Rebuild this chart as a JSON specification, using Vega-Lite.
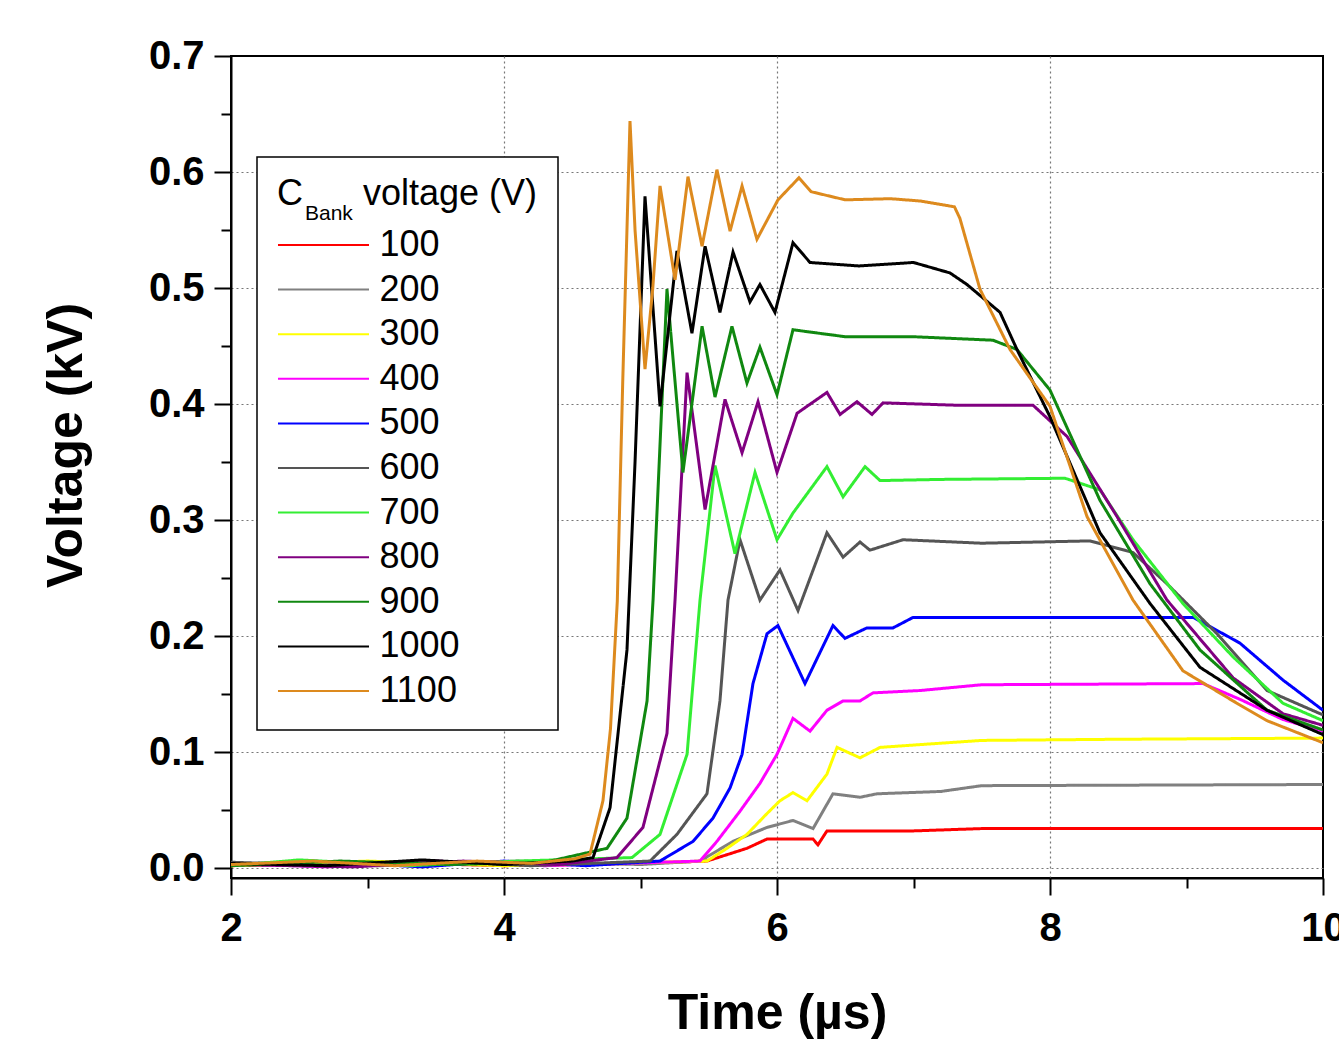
{
  "$schema": "https://vega.github.io/schema/vega-lite/v6.json",
  "width": 1092,
  "height": 822,
  "autosize": {"type": "none"},
  "padding": {"left": 231, "top": 56, "right": 16, "bottom": 164},
  "background": "white",
  "config": {
    "view": {"stroke": "black", "strokeWidth": 2},
    "legend": {"strokeWidth": 1.5}
  },
  "data": {
    "values": [
      {"s":"100","t":2.0,"v":0.002},{"s":"100","t":3.0,"v":0.005},{"s":"100","t":4.0,"v":0.002},{"s":"100","t":5.0,"v":0.004},{"s":"100","t":5.487,"v":0.006},{"s":"100","t":5.78,"v":0.017},{"s":"100","t":5.927,"v":0.025},{"s":"100","t":6.264,"v":0.025},{"s":"100","t":6.3,"v":0.02},{"s":"100","t":6.366,"v":0.032},{"s":"100","t":7.0,"v":0.032},{"s":"100","t":7.5,"v":0.034},{"s":"100","t":10.0,"v":0.034},
      {"s":"200","t":2.0,"v":0.004},{"s":"200","t":3.1,"v":0.002},{"s":"200","t":4.1,"v":0.006},{"s":"200","t":5.0,"v":0.003},{"s":"200","t":5.436,"v":0.006},{"s":"200","t":5.678,"v":0.023},{"s":"200","t":5.927,"v":0.035},{"s":"200","t":6.117,"v":0.041},{"s":"200","t":6.264,"v":0.034},{"s":"200","t":6.41,"v":0.064},{"s":"200","t":6.608,"v":0.061},{"s":"200","t":6.733,"v":0.064},{"s":"200","t":7.2,"v":0.066},{"s":"200","t":7.5,"v":0.071},{"s":"200","t":10.0,"v":0.072},
      {"s":"300","t":2.0,"v":0.002},{"s":"300","t":3.0,"v":0.006},{"s":"300","t":4.0,"v":0.002},{"s":"300","t":4.8,"v":0.004},{"s":"300","t":5.487,"v":0.006},{"s":"300","t":5.634,"v":0.017},{"s":"300","t":5.78,"v":0.029},{"s":"300","t":5.927,"v":0.047},{"s":"300","t":6.022,"v":0.058},{"s":"300","t":6.117,"v":0.065},{"s":"300","t":6.22,"v":0.058},{"s":"300","t":6.366,"v":0.081},{"s":"300","t":6.44,"v":0.104},{"s":"300","t":6.608,"v":0.095},{"s":"300","t":6.755,"v":0.104},{"s":"300","t":7.0,"v":0.106},{"s":"300","t":7.5,"v":0.11},{"s":"300","t":8.5,"v":0.111},{"s":"300","t":10.0,"v":0.112},
      {"s":"400","t":2.0,"v":0.004},{"s":"400","t":2.7,"v":0.001},{"s":"400","t":3.5,"v":0.006},{"s":"400","t":4.3,"v":0.002},{"s":"400","t":5.436,"v":0.006},{"s":"400","t":5.56,"v":0.023},{"s":"400","t":5.729,"v":0.049},{"s":"400","t":5.875,"v":0.073},{"s":"400","t":6.0,"v":0.098},{"s":"400","t":6.117,"v":0.129},{"s":"400","t":6.242,"v":0.118},{"s":"400","t":6.366,"v":0.136},{"s":"400","t":6.484,"v":0.144},{"s":"400","t":6.608,"v":0.144},{"s":"400","t":6.703,"v":0.151},{"s":"400","t":7.048,"v":0.153},{"s":"400","t":7.5,"v":0.158},{"s":"400","t":9.121,"v":0.159},{"s":"400","t":9.4,"v":0.145},{"s":"400","t":9.707,"v":0.128},{"s":"400","t":10.0,"v":0.118},
      {"s":"500","t":2.0,"v":0.003},{"s":"500","t":2.6,"v":0.006},{"s":"500","t":3.4,"v":0.001},{"s":"500","t":4.0,"v":0.006},{"s":"500","t":4.6,"v":0.002},{"s":"500","t":5.143,"v":0.006},{"s":"500","t":5.385,"v":0.023},{"s":"500","t":5.531,"v":0.043},{"s":"500","t":5.656,"v":0.069},{"s":"500","t":5.744,"v":0.098},{"s":"500","t":5.824,"v":0.159},{"s":"500","t":5.927,"v":0.202},{"s":"500","t":6.007,"v":0.209},{"s":"500","t":6.205,"v":0.159},{"s":"500","t":6.41,"v":0.209},{"s":"500","t":6.498,"v":0.198},{"s":"500","t":6.659,"v":0.207},{"s":"500","t":6.85,"v":0.207},{"s":"500","t":6.996,"v":0.216},{"s":"500","t":8.0,"v":0.216},{"s":"500","t":9.05,"v":0.216},{"s":"500","t":9.39,"v":0.194},{"s":"500","t":9.707,"v":0.162},{"s":"500","t":10.0,"v":0.136},
      {"s":"600","t":2.0,"v":0.005},{"s":"600","t":2.8,"v":0.002},{"s":"600","t":3.5,"v":0.006},{"s":"600","t":4.2,"v":0.002},{"s":"600","t":5.07,"v":0.006},{"s":"600","t":5.267,"v":0.029},{"s":"600","t":5.487,"v":0.064},{"s":"600","t":5.582,"v":0.144},{"s":"600","t":5.641,"v":0.231},{"s":"600","t":5.729,"v":0.283},{"s":"600","t":5.875,"v":0.231},{"s":"600","t":6.022,"v":0.257},{"s":"600","t":6.154,"v":0.222},{"s":"600","t":6.366,"v":0.289},{"s":"600","t":6.484,"v":0.268},{"s":"600","t":6.608,"v":0.281},{"s":"600","t":6.681,"v":0.274},{"s":"600","t":6.923,"v":0.283},{"s":"600","t":7.5,"v":0.28},{"s":"600","t":8.293,"v":0.282},{"s":"600","t":8.608,"v":0.272},{"s":"600","t":8.857,"v":0.245},{"s":"600","t":9.223,"v":0.202},{"s":"600","t":9.59,"v":0.153},{"s":"600","t":10.0,"v":0.132},
      {"s":"700","t":2.0,"v":0.002},{"s":"700","t":2.5,"v":0.007},{"s":"700","t":3.3,"v":0.002},{"s":"700","t":4.1,"v":0.006},{"s":"700","t":4.938,"v":0.009},{"s":"700","t":5.143,"v":0.029},{"s":"700","t":5.341,"v":0.098},{"s":"700","t":5.436,"v":0.231},{"s":"700","t":5.546,"v":0.347},{"s":"700","t":5.692,"v":0.271},{"s":"700","t":5.839,"v":0.341},{"s":"700","t":6.0,"v":0.283},{"s":"700","t":6.117,"v":0.306},{"s":"700","t":6.366,"v":0.346},{"s":"700","t":6.484,"v":0.32},{"s":"700","t":6.645,"v":0.346},{"s":"700","t":6.755,"v":0.334},{"s":"700","t":7.2,"v":0.335},{"s":"700","t":8.11,"v":0.336},{"s":"700","t":8.366,"v":0.326},{"s":"700","t":8.608,"v":0.283},{"s":"700","t":8.974,"v":0.228},{"s":"700","t":9.341,"v":0.182},{"s":"700","t":9.707,"v":0.142},{"s":"700","t":10.0,"v":0.127},
      {"s":"800","t":2.0,"v":0.003},{"s":"800","t":2.9,"v":0.001},{"s":"800","t":3.7,"v":0.006},{"s":"800","t":4.4,"v":0.003},{"s":"800","t":4.828,"v":0.009},{"s":"800","t":5.018,"v":0.035},{"s":"800","t":5.194,"v":0.116},{"s":"800","t":5.253,"v":0.231},{"s":"800","t":5.341,"v":0.427},{"s":"800","t":5.473,"v":0.309},{"s":"800","t":5.619,"v":0.404},{"s":"800","t":5.744,"v":0.358},{"s":"800","t":5.861,"v":0.402},{"s":"800","t":6.0,"v":0.341},{"s":"800","t":6.147,"v":0.392},{"s":"800","t":6.366,"v":0.41},{"s":"800","t":6.462,"v":0.391},{"s":"800","t":6.586,"v":0.402},{"s":"800","t":6.696,"v":0.391},{"s":"800","t":6.777,"v":0.401},{"s":"800","t":7.3,"v":0.399},{"s":"800","t":7.875,"v":0.399},{"s":"800","t":8.125,"v":0.372},{"s":"800","t":8.491,"v":0.303},{"s":"800","t":8.857,"v":0.231},{"s":"800","t":9.341,"v":0.164},{"s":"800","t":9.707,"v":0.133},{"s":"800","t":10.0,"v":0.123},
      {"s":"900","t":2.0,"v":0.002},{"s":"900","t":2.8,"v":0.006},{"s":"900","t":3.6,"v":0.003},{"s":"900","t":4.3,"v":0.005},{"s":"900","t":4.755,"v":0.017},{"s":"900","t":4.901,"v":0.043},{"s":"900","t":5.048,"v":0.144},{"s":"900","t":5.092,"v":0.231},{"s":"900","t":5.194,"v":0.499},{"s":"900","t":5.311,"v":0.341},{"s":"900","t":5.451,"v":0.467},{"s":"900","t":5.546,"v":0.406},{"s":"900","t":5.67,"v":0.467},{"s":"900","t":5.78,"v":0.418},{"s":"900","t":5.875,"v":0.449},{"s":"900","t":6.0,"v":0.408},{"s":"900","t":6.117,"v":0.464},{"s":"900","t":6.5,"v":0.458},{"s":"900","t":7.0,"v":0.458},{"s":"900","t":7.582,"v":0.455},{"s":"900","t":7.758,"v":0.447},{"s":"900","t":8.0,"v":0.412},{"s":"900","t":8.366,"v":0.317},{"s":"900","t":8.733,"v":0.245},{"s":"900","t":9.099,"v":0.188},{"s":"900","t":9.59,"v":0.136},{"s":"900","t":10.0,"v":0.119},
      {"s":"1000","t":2.0,"v":0.004},{"s":"1000","t":2.7,"v":0.002},{"s":"1000","t":3.4,"v":0.007},{"s":"1000","t":4.0,"v":0.003},{"s":"1000","t":4.5,"v":0.006},{"s":"1000","t":4.652,"v":0.009},{"s":"1000","t":4.777,"v":0.052},{"s":"1000","t":4.901,"v":0.188},{"s":"1000","t":4.96,"v":0.35},{"s":"1000","t":5.033,"v":0.579},{"s":"1000","t":5.143,"v":0.398},{"s":"1000","t":5.267,"v":0.532},{"s":"1000","t":5.377,"v":0.461},{"s":"1000","t":5.473,"v":0.536},{"s":"1000","t":5.582,"v":0.479},{"s":"1000","t":5.678,"v":0.531},{"s":"1000","t":5.802,"v":0.488},{"s":"1000","t":5.875,"v":0.503},{"s":"1000","t":5.985,"v":0.479},{"s":"1000","t":6.117,"v":0.539},{"s":"1000","t":6.242,"v":0.522},{"s":"1000","t":6.6,"v":0.519},{"s":"1000","t":7.0,"v":0.522},{"s":"1000","t":7.267,"v":0.513},{"s":"1000","t":7.392,"v":0.503},{"s":"1000","t":7.634,"v":0.479},{"s":"1000","t":7.758,"v":0.447},{"s":"1000","t":8.0,"v":0.389},{"s":"1000","t":8.366,"v":0.289},{"s":"1000","t":8.733,"v":0.228},{"s":"1000","t":9.099,"v":0.173},{"s":"1000","t":9.59,"v":0.136},{"s":"1000","t":10.0,"v":0.115},
      {"s":"1100","t":2.0,"v":0.003},{"s":"1100","t":2.6,"v":0.006},{"s":"1100","t":3.2,"v":0.002},{"s":"1100","t":3.8,"v":0.006},{"s":"1100","t":4.2,"v":0.004},{"s":"1100","t":4.52,"v":0.008},{"s":"1100","t":4.63,"v":0.012},{"s":"1100","t":4.725,"v":0.058},{"s":"1100","t":4.78,"v":0.12},{"s":"1100","t":4.83,"v":0.23},{"s":"1100","t":4.87,"v":0.42},{"s":"1100","t":4.923,"v":0.644},{"s":"1100","t":4.96,"v":0.55},{"s":"1100","t":5.033,"v":0.43},{"s":"1100","t":5.09,"v":0.5},{"s":"1100","t":5.143,"v":0.588},{"s":"1100","t":5.253,"v":0.507},{"s":"1100","t":5.348,"v":0.596},{"s":"1100","t":5.451,"v":0.536},{"s":"1100","t":5.56,"v":0.602},{"s":"1100","t":5.656,"v":0.549},{"s":"1100","t":5.744,"v":0.588},{"s":"1100","t":5.853,"v":0.542},{"s":"1100","t":6.007,"v":0.576},{"s":"1100","t":6.161,"v":0.595},{"s":"1100","t":6.25,"v":0.583},{"s":"1100","t":6.5,"v":0.576},{"s":"1100","t":6.83,"v":0.577},{"s":"1100","t":7.05,"v":0.575},{"s":"1100","t":7.3,"v":0.57},{"s":"1100","t":7.34,"v":0.56},{"s":"1100","t":7.487,"v":0.499},{"s":"1100","t":7.707,"v":0.447},{"s":"1100","t":8.0,"v":0.398},{"s":"1100","t":8.271,"v":0.303},{"s":"1100","t":8.608,"v":0.231},{"s":"1100","t":8.974,"v":0.17},{"s":"1100","t":9.341,"v":0.144},{"s":"1100","t":9.59,"v":0.127},{"s":"1100","t":10.0,"v":0.108}
    ]
  },
  "mark": {"type": "line", "strokeWidth": 3, "clip": true},
  "encoding": {
    "x": {
      "field": "t", "type": "quantitative",
      "scale": {"domain": [2, 10], "nice": false, "zero": false},
      "axis": {
        "title": "Time (µs)",
        "values": [2, 3, 4, 5, 6, 7, 8, 9, 10],
        "labelExpr": "datum.value % 2 == 0 ? datum.label : ''",
        "labelFont": "Liberation Sans", "labelFontSize": 40, "labelFontWeight": "bold", "labelColor": "black",
        "labelPadding": 13, "labelFlush": false,
        "tickColor": "black", "tickWidth": 2,
        "tickSize": {"condition": {"test": "datum.value % 2 != 0", "value": 10}, "value": 17},
        "domainColor": "black", "domainWidth": 2,
        "grid": true, "gridColor": "#777777", "gridDash": [2, 3], "gridWidth": 1.2,
        "gridOpacity": {"condition": {"test": "datum.value % 2 != 0 || datum.value == 2 || datum.value == 10", "value": 0}, "value": 1},
        "titleFont": "Liberation Sans", "titleFontSize": 50, "titleFontWeight": "bold", "titleColor": "black",
        "titlePadding": 40
      }
    },
    "y": {
      "field": "v", "type": "quantitative",
      "scale": {"domain": [-0.0086, 0.7], "nice": false, "zero": false},
      "axis": {
        "title": "Voltage (kV)",
        "values": [0, 0.05, 0.1, 0.15, 0.2, 0.25, 0.3, 0.35, 0.4, 0.45, 0.5, 0.55, 0.6, 0.65, 0.7],
        "format": ".1f",
        "labelExpr": "abs(datum.value*10 - round(datum.value*10)) > 0.01 ? '' : datum.label",
        "labelFont": "Liberation Sans", "labelFontSize": 40, "labelFontWeight": "bold", "labelColor": "black",
        "labelPadding": 10,
        "tickColor": "black", "tickWidth": 2,
        "tickSize": {"condition": {"test": "abs(datum.value*10 - round(datum.value*10)) > 0.01", "value": 10}, "value": 17},
        "domainColor": "black", "domainWidth": 2,
        "grid": true, "gridColor": "#777777", "gridDash": [2, 3], "gridWidth": 1.2,
        "gridOpacity": {"condition": {"test": "abs(datum.value*10 - round(datum.value*10)) > 0.01 || datum.value > 0.65", "value": 0}, "value": 1},
        "titleFont": "Liberation Sans", "titleFontSize": 50, "titleFontWeight": "bold", "titleColor": "black",
        "titlePadding": 57, "titleY": 389
      }
    },
    "color": {
      "field": "s", "type": "nominal",
      "scale": {
        "domain": ["100", "200", "300", "400", "500", "600", "700", "800", "900", "1000", "1100"],
        "range": ["#FF0000", "#808080", "#FFFF00", "#FF00FF", "#0000FF", "#555555", "#33EE33", "#800080", "#108810", "#000000", "#DD8A1E"]
      },
      "legend": {
        "title": "C\u00a0\u00a0\u00a0\u00a0\u00a0\u00a0voltage (V)",
        "orient": "none", "legendX": 26, "legendY": 101,
        "padding": 20, "strokeColor": "black", "fillColor": "white",
        "titleFont": "Liberation Sans", "titleFontSize": 36, "titleFontWeight": "normal", "titleColor": "black",
        "titlePadding": 13, "titleLimit": 0,
        "labelFont": "Liberation Sans", "labelFontSize": 36, "labelColor": "black", "labelLimit": 0,
        "symbolType": "M-2.528,0H2.528", "symbolSize": 1296, "symbolStrokeWidth": 2,
        "symbolOffset": 27.5, "labelOffset": 37, "rowPadding": 7.6, "zindex": 1
      }
    },
    "strokeDash": {
      "datum": "Bank",
      "scale": {"domain": ["Bank"], "range": [[1, 0]]},
      "legend": {
        "title": "Bank",
        "orient": "none", "legendX": 74, "legendY": 147,
        "padding": 0, "titlePadding": 0,
        "titleFont": "Liberation Sans", "titleFontSize": 21, "titleFontWeight": "normal", "titleColor": "black",
        "labelExpr": "''", "symbolOpacity": 0, "symbolSize": 1, "labelFontSize": 1,
        "zindex": 2
      }
    }
  }
}
